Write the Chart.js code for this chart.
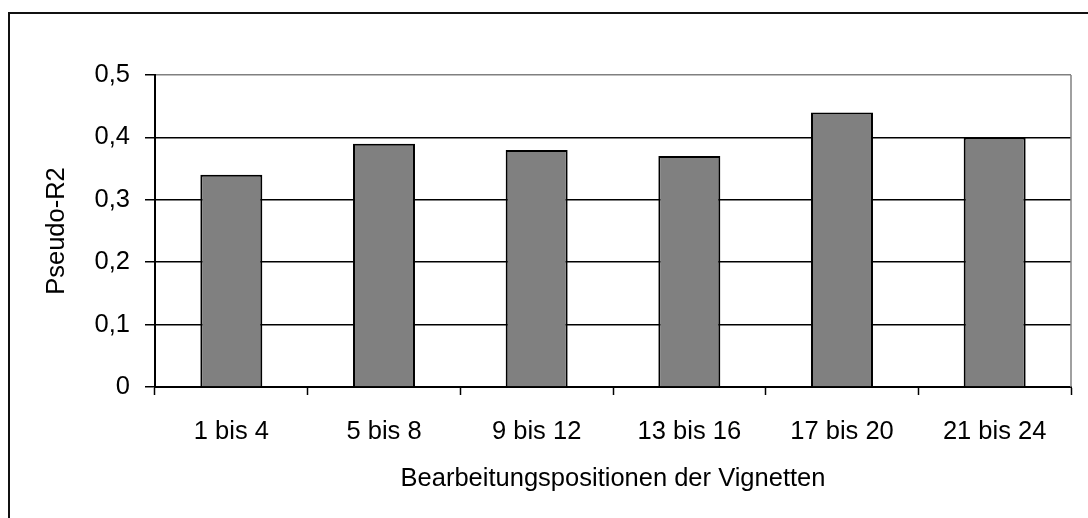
<!DOCTYPE html>
<html lang="de">
<head>
    <meta charset="UTF-8">
    <title>Pseudo-R2 nach Bearbeitungsposition</title>
    <script src="https://cdn.jsdelivr.net/npm/chart.js"></script>
    <style>
        body {
            margin: 0;
            background: #fff;
            overflow: hidden;
        }
        .frame {
            position: absolute;
            left: 8px;
            top: 12px;
            width: 1200px;
            height: 600px;
            border-left: 2px solid #111;
            border-top: 2px solid #111;
        }
        .wrap {
            position: absolute;
            left: 0;
            top: 0;
            width: 1088px;
            height: 518px;
        }
    </style>
</head>
<body>
    <div class="frame"></div>
    <div class="wrap"><canvas id="chart"></canvas></div>

    <script>
        // data
        const categories = ['1 bis 4', '5 bis 8', '9 bis 12', '13 bis 16', '17 bis 20', '21 bis 24'];
        const pseudoR2 = [0.34, 0.39, 0.38, 0.37, 0.44, 0.40];
        const yTickLabels = ['0', '0,1', '0,2', '0,3', '0,4', '0,5'];

        const font = { family: '"Liberation Sans", Arial, sans-serif', size: 25.5 };

        // gray right edge of the plot area
        const plotEdge = {
            id: 'plotEdge',
            afterDatasetsDraw(chart) {
                const a = chart.chartArea;
                const ctx = chart.ctx;
                ctx.save();
                ctx.strokeStyle = '#808080';
                ctx.lineWidth = 1.5;
                ctx.beginPath();
                ctx.moveTo(a.right, a.top);
                ctx.lineTo(a.right, a.bottom);
                ctx.stroke();
                ctx.restore();
            }
        };

        new Chart(document.getElementById('chart'), {
            type: 'bar',
            data: {
                labels: categories,
                datasets: [{
                    data: pseudoR2,
                    backgroundColor: '#808080',
                    borderColor: '#000',
                    borderWidth: 2,
                    categoryPercentage: 1,
                    barPercentage: 0.406
                }]
            },
            options: {
                responsive: true,
                maintainAspectRatio: false,
                animation: false,
                layout: { padding: { top: 75, right: 17, bottom: 0, left: 0 } },
                plugins: {
                    legend: { display: false },
                    tooltip: { enabled: false }
                },
                scales: {
                    x: {
                        afterFit: s => { s.height = 131; },
                        grid: {
                            drawOnChartArea: false,
                            drawTicks: true,
                            tickLength: 8,
                            tickColor: '#000',
                            tickWidth: 1.5
                        },
                        border: { color: '#000', width: 2 },
                        ticks: { color: '#000', font: font, padding: 22, maxRotation: 0 },
                        title: {
                            display: true,
                            text: 'Bearbeitungspositionen der Vignetten',
                            color: '#000',
                            font: font,
                            padding: { top: 0, bottom: 24 }
                        }
                    },
                    y: {
                        min: 0,
                        max: 0.5,
                        afterFit: s => { s.width = 155; },
                        grid: {
                            color: c => (c.tick && c.tick.value >= 0.5 ? '#808080' : '#000'),
                            lineWidth: 1.5,
                            tickLength: 10,
                            tickColor: '#000',
                            tickWidth: 1.5
                        },
                        border: { color: '#000', width: 2 },
                        ticks: {
                            stepSize: 0.1,
                            color: '#000',
                            font: font,
                            padding: 15,
                            callback: (v, i) => yTickLabels[i]
                        },
                        title: {
                            display: true,
                            text: 'Pseudo-R2',
                            color: '#000',
                            font: font,
                            padding: { top: 42, bottom: 0 }
                        }
                    }
                }
            },
            plugins: [plotEdge]
        });
    </script>
</body>
</html>
